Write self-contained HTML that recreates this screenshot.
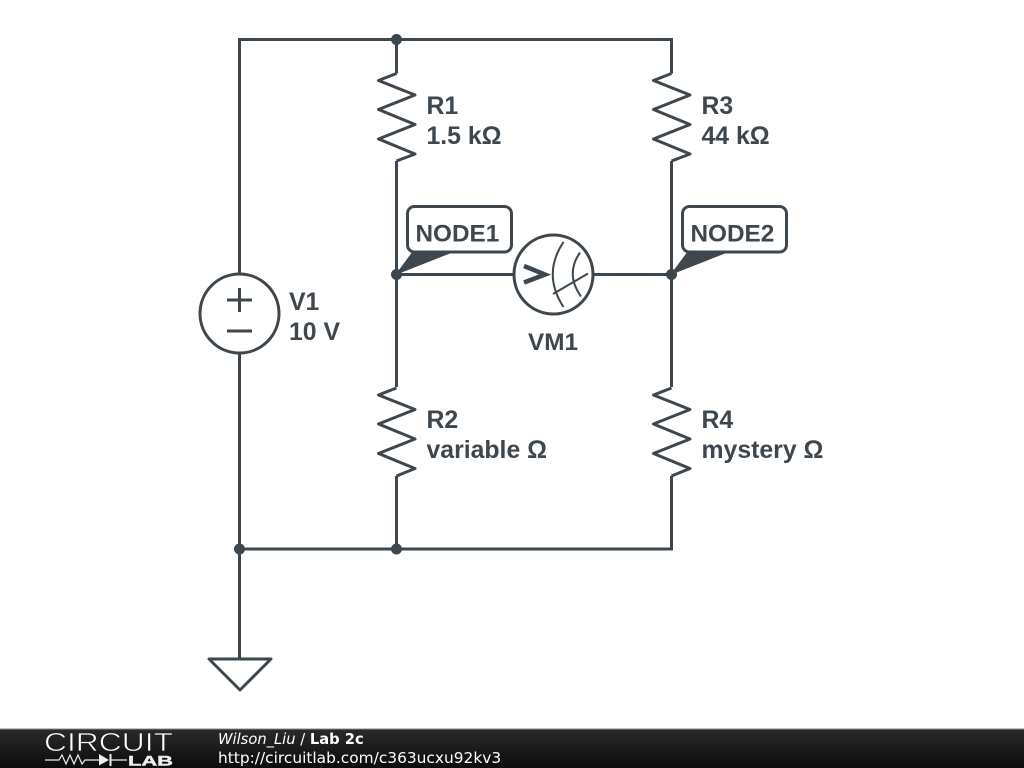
<!DOCTYPE html>
<html>
<head>
<meta charset="utf-8">
<style>
html,body{margin:0;padding:0;background:#fff;width:1024px;height:768px;overflow:hidden}
svg{display:block}
.w{fill:none;stroke:#3e474d;stroke-width:3;stroke-linejoin:round}
.t{font-family:"Liberation Sans",sans-serif;font-weight:bold;font-size:24.8px;fill:#3e474d}
</style>
</head>
<body>
<svg width="1024" height="768" viewBox="0 0 1024 768" xmlns="http://www.w3.org/2000/svg">
<defs>
<linearGradient id="bar" x1="0" y1="0" x2="0" y2="1"><stop offset="0" stop-color="#2a2a2a"/><stop offset="1" stop-color="#0c0c0c"/></linearGradient>
</defs>
<rect width="1024" height="768" fill="#fff"/>
<!-- wires -->
<path class="w" style="stroke-linejoin:miter" d="M239.500 274V39.500H671.500V73.500M396.500 39.500V73.500M396.500 161V387M671.500 161V387M396.500 274.500H514M593 274.500H671.500M396.500 476V549M671.500 476V549H239.500M239.500 353V658"/>
<!-- resistors -->
<path class="w" d="M396.500 73.500L378.500 80.500L415 95L378.500 109.500L415 124.500L378.500 139L415 154L396.500 161"/>
<path class="w" d="M671.500 73.500L653.500 80.500L690 95L653.500 109.500L690 124.500L653.500 139L690 154L671.500 161"/>
<path class="w" d="M396.500 388L378.500 395L415 409.500L378.500 424L415 439L378.500 453.500L415 468.500L396.500 476"/>
<path class="w" d="M671.500 388L653.500 395L690 409.500L653.500 424L690 439L653.500 453.500L690 468.500L671.500 476"/>
<!-- source -->
<circle class="w" cx="239.500" cy="313.500" r="39.500"/>
<path class="w" d="M227 300H252M239.500 288V312M227 331H252"/>
<!-- ground -->
<path class="w" d="M209 659H271L240 690Z"/>
<!-- node labels -->
<rect x="407.500" y="206.500" width="104" height="45.500" rx="7" fill="#fff" stroke="#3e474d" stroke-width="3"/>
<rect x="682.500" y="206.500" width="104" height="45.500" rx="7" fill="#fff" stroke="#3e474d" stroke-width="3"/>
<text class="t" style="font-size:24.300px" x="415.500" y="241.300">NODE1</text>
<text class="t" style="font-size:24.300px" x="690.500" y="241.300">NODE2</text>
<!-- junctions -->
<g fill="#3e474d" stroke="#3e474d" stroke-width="0">
<circle cx="396.500" cy="39.500" r="5.500"/>
<circle cx="396.500" cy="549" r="5.500"/>
<circle cx="239.500" cy="549" r="5.500"/>
<circle cx="396.500" cy="274.500" r="5.500"/>
<circle cx="671.500" cy="274.500" r="5.500"/>
<path stroke-width="1" d="M396.500 274L412.500 252.500H451Z"/>
<path stroke-width="1" d="M671.500 274L687.500 252.500H726Z"/>
</g>
<!-- meter -->
<circle cx="553.500" cy="274.500" r="39.500" fill="#fff" stroke="#3e474d" stroke-width="3"/>
<path d="M524 266L545 274.500L524 282.500" fill="none" stroke="#3e474d" stroke-width="4.500"/>
<path d="M563.500 242Q542 274 563.500 307M580 252.500Q565 274 581 296.500M553 294L588 273.500" fill="none" stroke="#3e474d" stroke-width="2"/>
<!-- labels -->
<text class="t" x="426.500" y="114">R1</text>
<text class="t" x="426.500" y="144">1.5 kΩ</text>
<text class="t" x="701.500" y="114">R3</text>
<text class="t" x="701.500" y="144">44 kΩ</text>
<text class="t" x="289" y="310">V1</text>
<text class="t" x="289" y="340">10 V</text>
<text class="t" style="font-size:24.300px" x="528" y="350">VM1</text>
<text class="t" x="426.500" y="428">R2</text>
<text class="t" x="426.500" y="458">variable Ω</text>
<text class="t" x="701.500" y="428">R4</text>
<text class="t" x="701.500" y="458">mystery Ω</text>
<!-- footer -->
<rect y="729" width="1024" height="39" fill="url(#bar)"/>
<rect y="728.500" width="1024" height="1" fill="#888"/>
<text x="44" y="751" font-family="'Liberation Sans',sans-serif" font-size="26" fill="#fff" stroke="#1e1e1e" stroke-width="0.700" textLength="129" lengthAdjust="spacingAndGlyphs">CIRCUIT</text>
<path d="M45 760H59L62 755L66 764L70 755L74 764L78 755L82 764L85 760H99M111 760H127" fill="none" stroke="#eee" stroke-width="1.200"/>
<path d="M99 754L109 760L99 765.500Z" fill="#eee"/>
<path d="M110.500 754V766" stroke="#eee" stroke-width="2"/>
<text x="128" y="765.500" font-family="'Liberation Sans',sans-serif" font-size="14" font-weight="bold" fill="#eee" stroke="#eee" stroke-width="0.400" textLength="45" lengthAdjust="spacingAndGlyphs">LAB</text>
<text x="218" y="744" font-family="'DejaVu Sans',sans-serif" font-size="14.700" fill="#fff"><tspan font-style="italic">Wilson_Liu</tspan> / <tspan font-weight="bold">Lab 2c</tspan></text>
<text x="218" y="763" font-family="'DejaVu Sans',sans-serif" font-size="15.400" fill="#fff">http://circuitlab.com/c363ucxu92kv3</text>
</svg>
</body>
</html>
